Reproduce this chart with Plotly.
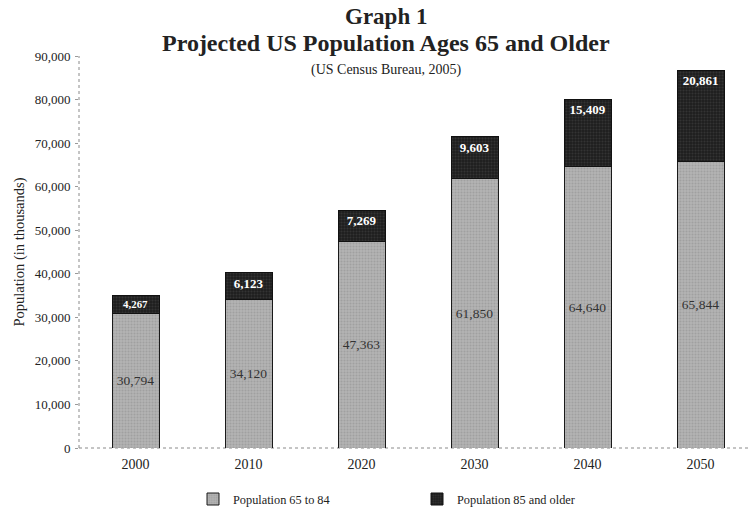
import plotly.graph_objects as go

years = ["2000", "2010", "2020", "2030", "2040", "2050"]
pop_65_84 = [30794, 34120, 47363, 61850, 64640, 65844]
pop_85_up = [4267, 6123, 7269, 9603, 15409, 20861]
y_ticks = [0, 10000, 20000, 30000, 40000, 50000, 60000, 70000, 80000, 90000]

SERIF = "Liberation Serif"
INK = "#222222"

fig = go.Figure()
fig.add_trace(go.Bar(
    x=years, y=pop_65_84, name="Population 65 to 84", legend="legend",
    marker=dict(color="#a9a9a9", line=dict(color="#1a1a1a", width=1),
                pattern=dict(shape=".", fgcolor="#8c8c8c", bgcolor="#b4b4b4", size=3, solidity=0.4)),
    width=0.416,
    texttemplate="%{y:,}", textposition="inside", insidetextanchor="middle",
    textfont=dict(family=SERIF, size=13.5, color="#333333"),
))
fig.add_trace(go.Bar(
    x=years, y=pop_85_up, name="Population 85 and older", legend="legend2",
    marker=dict(color="#262626", line=dict(color="#111111", width=1),
                pattern=dict(shape=".", fgcolor="#484848", bgcolor="#1e1e1e", size=3, solidity=0.4)),
    width=0.416,
    texttemplate="<b>%{y:,}</b>", textposition="inside", insidetextanchor="end",
    textfont=dict(family=SERIF, size=13, color="#ffffff"),
))

W, H = 748, 512
L, T, B = 79, 56, 64
PW = W - L
PH = H - T - B

leg_y = (448 - 499) / PH
fig.update_layout(
    width=W, height=H,
    barmode="stack",
    paper_bgcolor="white", plot_bgcolor="white",
    margin=dict(l=L, r=0, t=T, b=B, autoexpand=False),
    font=dict(family=SERIF, size=13, color=INK),
    showlegend=True,
    legend=dict(orientation="h", x=(193 - L) / PW, xanchor="left", y=leg_y, yanchor="middle",
                font=dict(family=SERIF, size=12.3, color=INK), itemwidth=30,
                bgcolor="rgba(0,0,0,0)"),
    legend2=dict(orientation="h", x=(417 - L) / PW, xanchor="left", y=leg_y, yanchor="middle",
                 font=dict(family=SERIF, size=12.3, color=INK), itemwidth=30,
                 bgcolor="rgba(0,0,0,0)"),
)

cx = (386 - L) / PW
fig.add_annotation(text="<b>Graph 1</b>", xref="paper", yref="paper", x=cx, y=1.0,
                   yshift=40, showarrow=False, font=dict(family=SERIF, size=23, color=INK),
                   xanchor="center", yanchor="middle", borderpad=0)
fig.add_annotation(text="<b>Projected US Population Ages 65 and Older</b>", xref="paper", yref="paper",
                   x=cx, y=1.0, yshift=13, showarrow=False,
                   font=dict(family=SERIF, size=24, color=INK),
                   xanchor="center", yanchor="middle", borderpad=0)
fig.add_annotation(text="(US Census Bureau, 2005)", xref="paper", yref="paper",
                   x=cx, y=1.0, yshift=-14, showarrow=False,
                   font=dict(family=SERIF, size=14, color=INK),
                   xanchor="center", yanchor="middle", borderpad=0)

# dotted axis lines
fig.add_shape(type="line", xref="paper", yref="paper", x0=0, x1=1, y0=0, y1=0,
              line=dict(color="#8a8a8a", width=1, dash="dot"), layer="below")
fig.add_shape(type="line", xref="paper", yref="paper", x0=0, x1=0, y0=0, y1=1,
              line=dict(color="#8a8a8a", width=1, dash="dot"), layer="below")

fig.update_xaxes(
    type="category", range=[-0.5, 5.42], automargin=False,
    showline=False, showgrid=False, ticks="",
    tickfont=dict(family=SERIF, size=14, color=INK),
    ticklabelstandoff=6,
)
fig.update_yaxes(
    range=[0, 90000], tickvals=y_ticks, tickformat=",", automargin=False,
    showline=False, showgrid=False, ticks="outside", ticklen=3, tickcolor="#9a9a9a",
    tickfont=dict(family=SERIF, size=13, color=INK), ticklabelstandoff=2,
    title=dict(text="Population (in thousands)", font=dict(family=SERIF, size=14.5, color=INK),
               standoff=6),
    zeroline=False,
)

fig.write_html("out.html", config={"displayModeBar": False},
               post_script="document.body.style.margin='0';")
